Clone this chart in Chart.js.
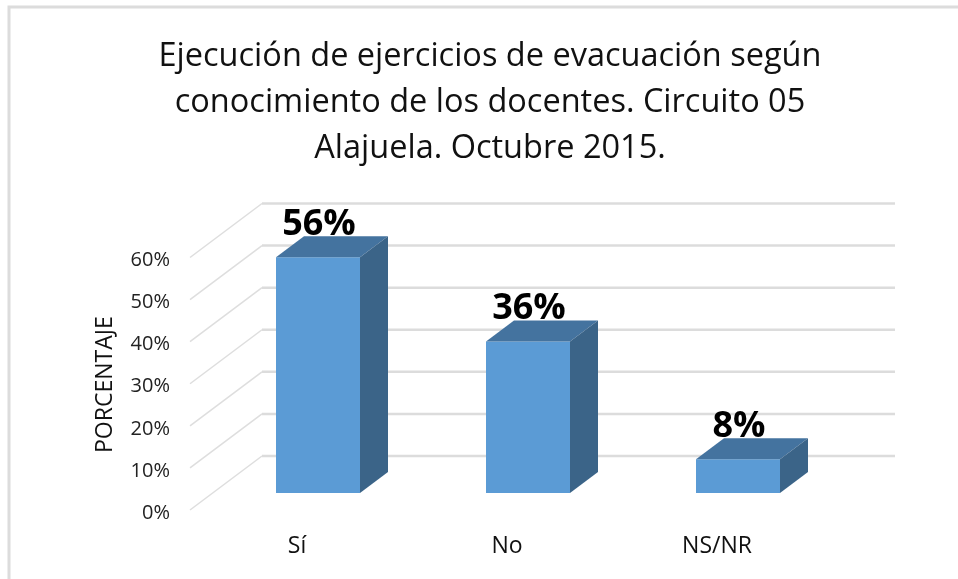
<!DOCTYPE html>
<html><head><meta charset="utf-8">
<style>html,body{margin:0;padding:0;background:#fff}canvas{display:block}</style>
<script src="https://cdn.jsdelivr.net/npm/chart.js@4"></script>
</head><body><canvas id="c" width="958" height="579"></canvas>
<script>
const categories = ["Sí", "No", "NS/NR"];
const values = [56, 36, 8];
const titleLines = ["Ejecución de ejercicios de evacuación según", "conocimiento de los docentes. Circuito 05", "Alajuela. Octubre 2015."];
const yAxisTitle = "PORCENTAJE";

const FONT = '"Open Sans", sans-serif';
const DEPTH_X = 28, DEPTH_Y = 21;
const WALL_DX = 72, WALL_DY = 54, WALL_FRONT = 17, WALL_LEFT = 190, WALL_RIGHT = 895;

const scene = {
  id: 'scene',
  beforeDatasetsDraw(chart) {
    const { ctx, scales: { y } } = chart;
    ctx.save();
    ctx.strokeStyle = '#dcdcdc'; ctx.lineWidth = 3;
    ctx.beginPath(); ctx.moveTo(9, 579); ctx.lineTo(9, 7); ctx.lineTo(958, 7); ctx.stroke();
    y.ticks.forEach(t => {
      const py = y.getPixelForValue(t.value) + WALL_FRONT;
      ctx.lineWidth = 1.5; ctx.strokeStyle = '#dedede';
      ctx.beginPath(); ctx.moveTo(WALL_LEFT, py); ctx.lineTo(WALL_LEFT + WALL_DX, py - WALL_DY); ctx.stroke();
      ctx.lineWidth = 2.5; ctx.strokeStyle = '#dcdcdc';
      ctx.beginPath(); ctx.moveTo(WALL_LEFT + WALL_DX, py - WALL_DY); ctx.lineTo(WALL_RIGHT, py - WALL_DY); ctx.stroke();
    });
    ctx.restore();
  },
  afterDatasetsDraw(chart) {
    const { ctx } = chart;
    const meta = chart.getDatasetMeta(0);
    ctx.save();
    meta.data.forEach((bar, i) => {
      const hw = bar.width / 2, l = bar.x - hw, r = bar.x + hw, t = bar.y, b = bar.base;
      ctx.fillStyle = '#44739f';
      ctx.beginPath(); ctx.moveTo(l, t); ctx.lineTo(l + DEPTH_X, t - DEPTH_Y); ctx.lineTo(r + DEPTH_X, t - DEPTH_Y); ctx.lineTo(r, t); ctx.closePath(); ctx.fill();
      ctx.fillStyle = '#3b6488';
      ctx.beginPath(); ctx.moveTo(r, t); ctx.lineTo(r + DEPTH_X, t - DEPTH_Y); ctx.lineTo(r + DEPTH_X, b - DEPTH_Y); ctx.lineTo(r, b); ctx.closePath(); ctx.fill();
      ctx.fillStyle = '#000'; ctx.font = 'bold 36px ' + FONT;
      ctx.textAlign = 'center'; ctx.textBaseline = 'middle';
      ctx.fillText(values[i] + '%', bar.x + 1, t - 33);
    });
    ctx.restore();
  }
};

new Chart(document.getElementById('c'), {
  type: 'bar',
  data: { labels: categories, datasets: [{ data: values, backgroundColor: '#5b9bd5', borderWidth: 0, barPercentage: 0.4, categoryPercentage: 1 }] },
  plugins: [scene],
  options: {
    responsive: false, animation: false,
    layout: { padding: { left: 22, right: 0, top: 34, bottom: 0 } },
    plugins: {
      legend: { display: false }, tooltip: { enabled: false },
      title: { display: true, text: titleLines, color: '#111', font: { family: FONT, size: 32.5, weight: 'normal', lineHeight: 1.41 }, padding: { top: 0, bottom: 69 } }
    },
    scales: {
      x: {
        grid: { display: false }, border: { display: false },
        afterFit: s => { s.height = 86; },
        ticks: { color: '#111', font: { family: FONT, size: 23 }, padding: 32, labelOffset: -21, maxRotation: 0 }
      },
      y: {
        min: 0, max: 60,
        grid: { display: false, drawTicks: false }, border: { display: false },
        afterFit: s => { s.width = 191; },
        title: { display: true, text: yAxisTitle + '      ', color: '#111', font: { family: FONT, size: 23 }, padding: { top: 70, bottom: 0 } },
        ticks: { stepSize: 10, color: '#222', font: { family: FONT, size: 20 }, padding: 43, labelOffset: 20, callback: v => v + '%' }
      },
      rightGutter: {
        position: 'right', min: 0, max: 60,
        grid: { display: false, drawTicks: false }, border: { display: false },
        ticks: { display: false },
        afterFit: s => { s.width = 115; }
      }
    }
  }
});
</script></body></html>
